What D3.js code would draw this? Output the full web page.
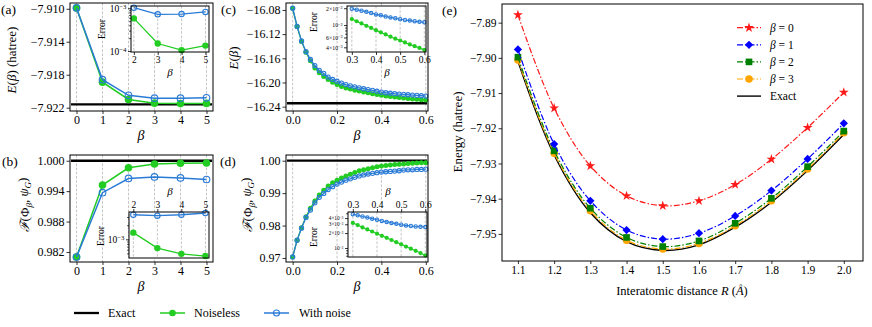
<!DOCTYPE html>
<html>
<head>
<meta charset="utf-8">
<script src="https://cdn.jsdelivr.net/npm/d3@7"></script>
<style>
  body { margin: 0; background: #fff; }
  svg { display: block; font-family: "Liberation Serif", "DejaVu Serif", serif; }
</style>
</head>
<body>
<svg id="fig" width="872" height="327"></svg>
<script>
// ---- data ----
const betaSteps = [0, 1, 2, 3, 4, 5];
const energyExactA = -7.9216;
const energyNoiselessA = [-7.9099, -7.9189, -7.9210, -7.92145, -7.9215, -7.92148];
const energyNoisyA = [-7.9099, -7.9186, -7.9205, -7.92085, -7.92085, -7.9208];

const betaInsetAB = [2, 3, 4, 5];
const errNoiselessA = [5.8e-4, 1.5e-4, 1.05e-4, 1.34e-4];
const errNoisyA = [1.03e-3, 7.2e-4, 7.3e-4, 8.2e-4];

const fidelityExact = 1.0;
const fidNoiselessB = [0.9810, 0.9952, 0.9986, 0.99935, 0.9995, 0.99955];
const fidNoisyB = [0.9810, 0.9937, 0.9965, 0.9968, 0.9966, 0.9963];
const errNoiselessB = [1.39e-3, 6.5e-4, 4.9e-4, 4.4e-4];
const errNoisyB = [3.35e-3, 3.2e-3, 3.35e-3, 3.65e-3];

const betaFine = [0, 0.02, 0.04, 0.06, 0.08, 0.1, 0.12, 0.14, 0.16, 0.18, 0.2, 0.22, 0.24, 0.26, 0.28,
  0.3, 0.32, 0.34, 0.36, 0.38, 0.4, 0.42, 0.44, 0.46, 0.48, 0.5, 0.52, 0.54, 0.56, 0.58, 0.6];
const energyExactC = -16.2344;
const energyNoiselessC = [-16.0772, -16.1075, -16.132, -16.150, -16.164, -16.176, -16.184, -16.190,
  -16.195, -16.1995, -16.2035, -16.2065, -16.209, -16.211, -16.2128, -16.2143, -16.2158, -16.2172,
  -16.2185, -16.2198, -16.2212, -16.2222, -16.2232, -16.2241, -16.225, -16.2258, -16.2266, -16.2273,
  -16.2279, -16.2285, -16.229];
const energyNoisyC = [-16.0772, -16.1072, -16.1312, -16.149, -16.162, -16.172, -16.180, -16.185,
  -16.191, -16.195, -16.198, -16.201, -16.2035, -16.2055, -16.2072, -16.2088, -16.2103, -16.2117,
  -16.213, -16.2145, -16.216, -16.217, -16.2178, -16.2186, -16.2192, -16.2197, -16.2203, -16.2208,
  -16.2214, -16.222, -16.2225];

const betaInsetCD = [0.3, 0.32, 0.34, 0.36, 0.38, 0.4, 0.42, 0.44, 0.46, 0.48, 0.5, 0.52, 0.54, 0.56, 0.58, 0.6];
const errNoiselessC = [1.28e-2, 1.17e-2, 1.07e-2, 9.7e-3, 8.9e-3, 8.1e-3, 7.4e-3, 6.8e-3, 6.2e-3, 5.7e-3,
  5.3e-3, 4.9e-3, 4.5e-3, 4.2e-3, 3.9e-3, 3.6e-3];
const errNoisyC = [1.96e-2, 1.88e-2, 1.8e-2, 1.72e-2, 1.64e-2, 1.55e-2, 1.49e-2, 1.42e-2, 1.37e-2, 1.32e-2,
  1.27e-2, 1.23e-2, 1.2e-2, 1.17e-2, 1.14e-2, 1.12e-2];

const fidNoiselessD = [0.9703, 0.9755, 0.9793, 0.9827, 0.9853, 0.9876, 0.9894, 0.9909, 0.9922, 0.9932,
  0.9940, 0.9947, 0.9953, 0.9958, 0.9964, 0.9969, 0.9972, 0.9975, 0.9978, 0.9981, 0.9984, 0.9985,
  0.9987, 0.9988, 0.9989, 0.9990, 0.9991, 0.9992, 0.9993, 0.99935, 0.9994];
const fidNoisyD = [0.9703, 0.9755, 0.9792, 0.9825, 0.9848, 0.9870, 0.9887, 0.9899, 0.9911, 0.9920,
  0.9928, 0.9934, 0.9940, 0.9944, 0.9949, 0.9953, 0.9956, 0.9959, 0.9961, 0.9963, 0.9965, 0.9966,
  0.9967, 0.9968, 0.9969, 0.9971, 0.9972, 0.9972, 0.9973, 0.9973, 0.9974];
const errNoiselessD = [3.2e-3, 2.9e-3, 2.6e-3, 2.37e-3, 2.15e-3, 1.94e-3, 1.76e-3, 1.6e-3, 1.45e-3, 1.31e-3,
  1.19e-3, 1.07e-3, 9.7e-4, 8.8e-4, 7.9e-4, 7.1e-4];
const errNoisyD = [4.8e-3, 4.55e-3, 4.3e-3, 4.1e-3, 3.9e-3, 3.7e-3, 3.5e-3, 3.35e-3, 3.2e-3, 3.06e-3,
  2.94e-3, 2.85e-3, 2.77e-3, 2.71e-3, 2.67e-3, 2.64e-3];

const distances = [1.1, 1.2, 1.3, 1.4, 1.5, 1.6, 1.7, 1.8, 1.9, 2.0];
const energyBeta0 = [-7.8878, -7.9143, -7.9307, -7.9392, -7.9420, -7.9406, -7.9360, -7.9288, -7.9198, -7.9098];
const energyBeta1 = [-7.8976, -7.9245, -7.9406, -7.9489, -7.9515, -7.9498, -7.9449, -7.9377, -7.9287, -7.9186];
const energyBeta2 = [-7.8998, -7.9264, -7.9427, -7.9510, -7.9536, -7.9520, -7.9470, -7.9399, -7.9309, -7.9208];
const energyBeta3 = [-7.9006, -7.9271, -7.9434, -7.9518, -7.9543, -7.9527, -7.9477, -7.9406, -7.9316, -7.9213];
const energyExactE = [-7.9010, -7.9276, -7.9440, -7.9522, -7.9547, -7.9531, -7.9481, -7.9410, -7.9320, -7.9218];

const GREEN = '#22cc22';
const BLUE = '#2a7bd6';

const svg = d3.select('#fig');

// ---- helpers ----
function makeAxes(box, xDomain, yDomain, yLog) {
  const g = svg.append('g');
  const x = d3.scaleLinear().domain(xDomain).range([box.l, box.r]);
  const y = (yLog ? d3.scaleLog() : d3.scaleLinear()).domain(yDomain).range([box.b, box.t]);
  return { g, x, y, box };
}

function background(ax) {
  ax.g.append('rect')
    .attr('x', ax.box.l).attr('y', ax.box.t)
    .attr('width', ax.box.r - ax.box.l).attr('height', ax.box.b - ax.box.t)
    .attr('fill', '#fff');
}

function border(ax) {
  ax.g.append('rect')
    .attr('x', ax.box.l).attr('y', ax.box.t)
    .attr('width', ax.box.r - ax.box.l).attr('height', ax.box.b - ax.box.t)
    .attr('fill', 'none').attr('stroke', '#000').attr('stroke-width', 1);
}

function grid(ax, ticks) {
  ax.g.append('g').selectAll('line').data(ticks).join('line')
    .attr('x1', (d) => ax.x(d)).attr('x2', (d) => ax.x(d))
    .attr('y1', ax.box.t).attr('y2', ax.box.b)
    .attr('stroke', '#b5b5b5').attr('stroke-width', 0.8).attr('stroke-dasharray', '2.6,1.6');
}

function styleAxis(a, fs) {
  a.attr('font-family', null).attr('font-size', null);
  a.select('.domain').remove();
  a.selectAll('text').attr('font-size', fs).attr('fill', '#000');
  a.selectAll('line').attr('stroke', '#000').attr('stroke-width', 0.8);
}

function xAxis(ax, ticks, fmt, fs, top) {
  const axis = (top ? d3.axisTop(ax.x) : d3.axisBottom(ax.x))
    .tickValues(ticks).tickFormat(fmt).tickSize(3).tickSizeOuter(0).tickPadding(1.5);
  const a = ax.g.append('g')
    .attr('transform', `translate(0,${top ? ax.box.t : ax.box.b})`)
    .call(axis);
  styleAxis(a, fs);
}

function yAxis(ax, ticks, fmt, fs) {
  const a = ax.g.append('g')
    .attr('transform', `translate(${ax.box.l},0)`)
    .call(d3.axisLeft(ax.y).tickValues(ticks).tickFormat(fmt).tickSize(3.5).tickPadding(2));
  styleAxis(a, fs);
}

function powerLabel(t, v) {
  const e = Math.floor(Math.log10(v) + 1e-9);
  const m = Math.round(v / Math.pow(10, e));
  t.text(null);
  t.append('tspan').text((m === 1 ? '' : m + '×') + '10');
  t.append('tspan').attr('dy', '-0.45em').attr('font-size', '0.72em').text('−' + Math.abs(e));
}

function yLogAxis(ax, major, minor, fs) {
  const a = ax.g.append('g')
    .attr('transform', `translate(${ax.box.l},0)`)
    .call(d3.axisLeft(ax.y).tickValues(major).tickFormat(() => '').tickSize(3).tickPadding(1.5));
  styleAxis(a, fs);
  a.selectAll('.tick text').each(function (v) { powerLabel(d3.select(this), v); });
  const m = ax.g.append('g')
    .attr('transform', `translate(${ax.box.l},0)`)
    .call(d3.axisLeft(ax.y).tickValues(minor).tickFormat(() => '').tickSize(1.8));
  styleAxis(m, fs);
}

function exactLine(ax, value) {
  ax.g.append('line')
    .attr('x1', ax.box.l + 1).attr('x2', ax.box.r - 1)
    .attr('y1', ax.y(value)).attr('y2', ax.y(value))
    .attr('stroke', '#000').attr('stroke-width', 2.3);
}

function series(ax, xs, ys, color, filled, r, lw) {
  const pts = xs.map((v, i) => [ax.x(v), ax.y(ys[i])]);
  ax.g.append('path')
    .attr('d', d3.line()(pts))
    .attr('fill', 'none').attr('stroke', color).attr('stroke-width', lw);
  ax.g.append('g').selectAll('circle').data(pts).join('circle')
    .attr('cx', (d) => d[0]).attr('cy', (d) => d[1])
    .attr('r', filled ? r : r - 0.5)
    .attr('fill', filled ? color : 'none')
    .attr('stroke', filled ? 'none' : color)
    .attr('stroke-width', filled ? 0 : 1.1);
}

function text(x, y, str, fs, opts = {}) {
  return svg.append('text')
    .attr('x', x).attr('y', y)
    .attr('font-size', fs)
    .attr('text-anchor', opts.anchor || 'start')
    .attr('font-style', opts.italic ? 'italic' : null)
    .text(str);
}

function vLabel(x, y, fs, build) {
  const t = svg.append('text')
    .attr('transform', `translate(${x},${y}) rotate(-90)`)
    .attr('text-anchor', 'middle').attr('font-size', fs);
  build(t);
}

function fidelityLabel(t) {
  t.append('tspan').attr('font-style', 'italic').text('ℱ');
  t.append('tspan').text('(Φ');
  t.append('tspan').attr('font-style', 'italic').attr('font-size', '0.7em').attr('dy', '0.3em').text('β');
  t.append('tspan').attr('dy', '-0.3em').text(', ');
  t.append('tspan').attr('font-style', 'italic').text('ψ');
  t.append('tspan').attr('font-style', 'italic').attr('font-size', '0.7em').attr('dy', '0.3em').text('G');
  t.append('tspan').attr('dy', '-0.3em').text(')');
}

const fmtInt = d3.format('d');

// ---- (a) energy vs integer beta ----
const axA = makeAxes({ l: 70, r: 213, t: 3, b: 111 }, [-0.25, 5.25], [-7.9224, -7.9093]);
grid(axA, betaSteps);
exactLine(axA, energyExactA);
series(axA, betaSteps, energyNoiselessA, GREEN, true, 3.8, 1.5);
series(axA, betaSteps, energyNoisyA, BLUE, false, 3.8, 1.5);
border(axA);
xAxis(axA, betaSteps, fmtInt, 12);
yAxis(axA, [-7.910, -7.914, -7.918, -7.922], d3.format('.3f'), 12);

const inA = makeAxes({ l: 131, r: 209, t: 6, b: 52 }, [1.88, 5.15], [0.95e-4, 1.13e-3], true);
background(inA);
grid(inA, betaInsetAB);
series(inA, betaInsetAB, errNoiselessA, GREEN, true, 3.2, 1.3);
series(inA, betaInsetAB, errNoisyA, BLUE, false, 3.2, 1.3);
border(inA);
xAxis(inA, betaInsetAB, fmtInt, 9.5);
yLogAxis(inA, [1e-4, 1e-3], [2e-4, 3e-4, 4e-4, 5e-4, 6e-4, 7e-4, 8e-4, 9e-4], 9.5);

// ---- (b) fidelity vs integer beta ----
const axB = makeAxes({ l: 70, r: 213, t: 155, b: 262 }, [-0.25, 5.25], [0.98002, 1.00113]);
grid(axB, betaSteps);
exactLine(axB, fidelityExact);
series(axB, betaSteps, fidNoiselessB, GREEN, true, 3.8, 1.5);
series(axB, betaSteps, fidNoisyB, BLUE, false, 3.8, 1.5);
border(axB);
xAxis(axB, betaSteps, fmtInt, 12);
yAxis(axB, [0.982, 0.988, 0.994, 1.000], d3.format('.3f'), 12);

const inB = makeAxes({ l: 129, r: 209, t: 212, b: 258 }, [1.82, 5.15], [4.0e-4, 3.83e-3], true);
background(inB);
grid(inB, betaInsetAB);
series(inB, betaInsetAB, errNoiselessB, GREEN, true, 3.2, 1.3);
series(inB, betaInsetAB, errNoisyB, BLUE, false, 3.2, 1.3);
border(inB);
xAxis(inB, betaInsetAB, fmtInt, 9.5, true);
yLogAxis(inB, [1e-3], [5e-4, 6e-4, 7e-4, 8e-4, 9e-4, 2e-3, 3e-3], 9.5);

// ---- (c) energy vs continuous beta ----
const axC = makeAxes({ l: 286, r: 428, t: 3, b: 111 }, [-0.03, 0.61], [-16.2472, -16.0685]);
grid(axC, [0, 0.2, 0.4, 0.6]);
exactLine(axC, energyExactC);
series(axC, betaFine, energyNoiselessC, GREEN, true, 2.5, 1.3);
series(axC, betaFine, energyNoisyC, BLUE, false, 2.6, 1.3);
border(axC);
xAxis(axC, [0, 0.2, 0.4, 0.6], d3.format('.1f'), 12);
yAxis(axC, [-16.08, -16.12, -16.16, -16.20, -16.24], d3.format('.2f'), 12);

const inC = makeAxes({ l: 347, r: 426, t: 6, b: 52 }, [0.28, 0.607], [3.3e-3, 2.19e-2], true);
background(inC);
grid(inC, [0.3, 0.4, 0.5, 0.6]);
series(inC, betaInsetCD, errNoiselessC, GREEN, true, 2.1, 1.1);
series(inC, betaInsetCD, errNoisyC, BLUE, false, 2.2, 1.1);
border(inC);
xAxis(inC, [0.3, 0.4, 0.5, 0.6], d3.format('.1f'), 9.5);
yLogAxis(inC, [4e-3, 6e-3, 1e-2, 2e-2], [5e-3, 7e-3, 8e-3, 9e-3], 5.8);

// ---- (d) fidelity vs continuous beta ----
const axD = makeAxes({ l: 286, r: 428, t: 155, b: 262 }, [-0.03, 0.61], [0.96876, 1.00176]);
grid(axD, [0, 0.2, 0.4, 0.6]);
exactLine(axD, fidelityExact);
series(axD, betaFine, fidNoiselessD, GREEN, true, 2.5, 1.3);
series(axD, betaFine, fidNoisyD, BLUE, false, 2.6, 1.3);
border(axD);
xAxis(axD, [0, 0.2, 0.4, 0.6], d3.format('.1f'), 12);
yAxis(axD, [0.97, 0.98, 0.99, 1.00], d3.format('.2f'), 12);

const inD = makeAxes({ l: 348, r: 427, t: 212, b: 257 }, [0.28, 0.607], [6.6e-4, 5.3e-3], true);
background(inD);
grid(inD, [0.3, 0.4, 0.5, 0.6]);
series(inD, betaInsetCD, errNoiselessD, GREEN, true, 2.1, 1.1);
series(inD, betaInsetCD, errNoisyD, BLUE, false, 2.2, 1.1);
border(inD);
xAxis(inD, [0.3, 0.4, 0.5, 0.6], d3.format('.1f'), 9.5, true);
yLogAxis(inD, [1e-3, 2e-3, 3e-3, 4e-3], [7e-4, 8e-4, 9e-4, 5e-3], 5.2);

// ---- labels for (a)-(d) ----
text(1, 14, '(a)', 13.5);
text(2, 166, '(b)', 13.5);
text(221, 14, '(c)', 13.5);
text(220, 166, '(d)', 13.5);
text(442, 15, '(e)', 13.5);

vLabel(16, 60, 13, (t) => {
  t.append('tspan').attr('font-style', 'italic').text('E');
  t.append('tspan').text('(');
  t.append('tspan').attr('font-style', 'italic').text('β');
  t.append('tspan').text(') (hatree)');
});
vLabel(29, 205, 13, fidelityLabel);
vLabel(238, 58, 13, (t) => {
  t.append('tspan').attr('font-style', 'italic').text('E');
  t.append('tspan').text('(');
  t.append('tspan').attr('font-style', 'italic').text('β');
  t.append('tspan').text(')');
});
vLabel(252, 205, 13, fidelityLabel);

text(141, 140, 'β', 14, { anchor: 'middle', italic: true });
text(141, 291, 'β', 14, { anchor: 'middle', italic: true });
text(357, 140, 'β', 14, { anchor: 'middle', italic: true });
text(357, 291, 'β', 14, { anchor: 'middle', italic: true });

// inset axis titles
text(170, 76, 'β', 11, { anchor: 'middle', italic: true });
text(170, 195, 'β', 11, { anchor: 'middle', italic: true });
text(387, 76, 'β', 11, { anchor: 'middle', italic: true });
text(388, 195, 'β', 11, { anchor: 'middle', italic: true });
vLabel(105, 29, 9.5, (t) => t.text('Error'));
vLabel(104, 236, 9.5, (t) => t.text('Error'));
vLabel(317, 22, 9.5, (t) => t.text('Error'));
vLabel(317, 237, 9.5, (t) => t.text('Error'));

// ---- bottom legend ----
const legendY = 313;
svg.append('line').attr('x1', 74).attr('x2', 99).attr('y1', legendY).attr('y2', legendY)
  .attr('stroke', '#000').attr('stroke-width', 2.3);
text(108, legendY + 4, 'Exact', 12);
svg.append('line').attr('x1', 160).attr('x2', 185).attr('y1', legendY).attr('y2', legendY)
  .attr('stroke', GREEN).attr('stroke-width', 1.5);
svg.append('circle').attr('cx', 172.5).attr('cy', legendY).attr('r', 3.3).attr('fill', GREEN);
text(194, legendY + 4, 'Noiseless', 12);
svg.append('line').attr('x1', 264).attr('x2', 289).attr('y1', legendY).attr('y2', legendY)
  .attr('stroke', BLUE).attr('stroke-width', 1.5);
svg.append('circle').attr('cx', 276.5).attr('cy', legendY).attr('r', 3)
  .attr('fill', 'none').attr('stroke', BLUE).attr('stroke-width', 1.1);
text(299, legendY + 4, 'With noise', 12);

// ---- (e) potential energy curves ----
const axE = makeAxes({ l: 502, r: 863, t: 4, b: 261 }, [1.056, 2.053], [-7.9577, -7.8847]);
const curve = d3.line().curve(d3.curveCatmullRom.alpha(0.5));
const eSeries = [
  { label: '0', values: energyBeta0, color: '#ff1a1a', symbol: d3.symbolStar, size: 30, rotate: 0 },
  { label: '1', values: energyBeta1, color: '#0000ff', symbol: d3.symbolSquare, size: 34, rotate: 45 },
  { label: '2', values: energyBeta2, color: '#008000', symbol: d3.symbolSquare, size: 44, rotate: 0 },
  { label: '3', values: energyBeta3, color: '#ffa500', symbol: d3.symbolCircle, size: 44, rotate: 0 },
];

axE.g.append('path')
  .attr('d', curve(distances.map((r, i) => [axE.x(r), axE.y(energyExactE[i])])))
  .attr('fill', 'none').attr('stroke', '#000').attr('stroke-width', 1.4);

eSeries.slice().reverse().forEach((s) => {
  const pts = distances.map((r, i) => [axE.x(r), axE.y(s.values[i])]);
  axE.g.append('path').attr('d', curve(pts))
    .attr('fill', 'none').attr('stroke', s.color).attr('stroke-width', 1.2)
    .attr('stroke-dasharray', '6,2,1.5,2');
  axE.g.append('g').selectAll('path').data(pts).join('path')
    .attr('d', d3.symbol().type(s.symbol).size(s.size))
    .attr('transform', (d) => `translate(${d[0]},${d[1]}) rotate(${s.rotate})`)
    .attr('fill', s.color);
});
border(axE);
xAxis(axE, distances, d3.format('.1f'), 11.5);
yAxis(axE, [-7.89, -7.90, -7.91, -7.92, -7.93, -7.94, -7.95], d3.format('.2f'), 11.5);

vLabel(462, 132, 13, (t) => t.text('Energy (hatree)'));
const xl = svg.append('text').attr('x', 682).attr('y', 295).attr('text-anchor', 'middle').attr('font-size', 12.5);
xl.append('tspan').text('Interatomic distance ');
xl.append('tspan').attr('font-style', 'italic').text('R');
xl.append('tspan').text(' (');
xl.append('tspan').attr('font-style', 'italic').text('Å');
xl.append('tspan').text(')');

// legend inside (e)
const legE = svg.append('g');
eSeries.forEach((s, i) => {
  const y = 27.7 + i * 17.1;
  legE.append('line').attr('x1', 737).attr('x2', 761).attr('y1', y).attr('y2', y)
    .attr('stroke', s.color).attr('stroke-width', 1.2).attr('stroke-dasharray', '6,2,1.5,2');
  legE.append('path').attr('d', d3.symbol().type(s.symbol).size(s.size))
    .attr('transform', `translate(749,${y}) rotate(${s.rotate})`).attr('fill', s.color);
  const t = legE.append('text').attr('x', 770).attr('y', y + 4).attr('font-size', 11.5);
  t.append('tspan').attr('font-style', 'italic').text('β');
  t.append('tspan').text(' = ' + s.label);
});
const yEx = 27.7 + 4 * 17.1;
legE.append('line').attr('x1', 737).attr('x2', 761).attr('y1', yEx).attr('y2', yEx)
  .attr('stroke', '#000').attr('stroke-width', 1.4);
legE.append('text').attr('x', 770).attr('y', yEx + 4).attr('font-size', 11.5).text('Exact');
</script>
</body>
</html>
